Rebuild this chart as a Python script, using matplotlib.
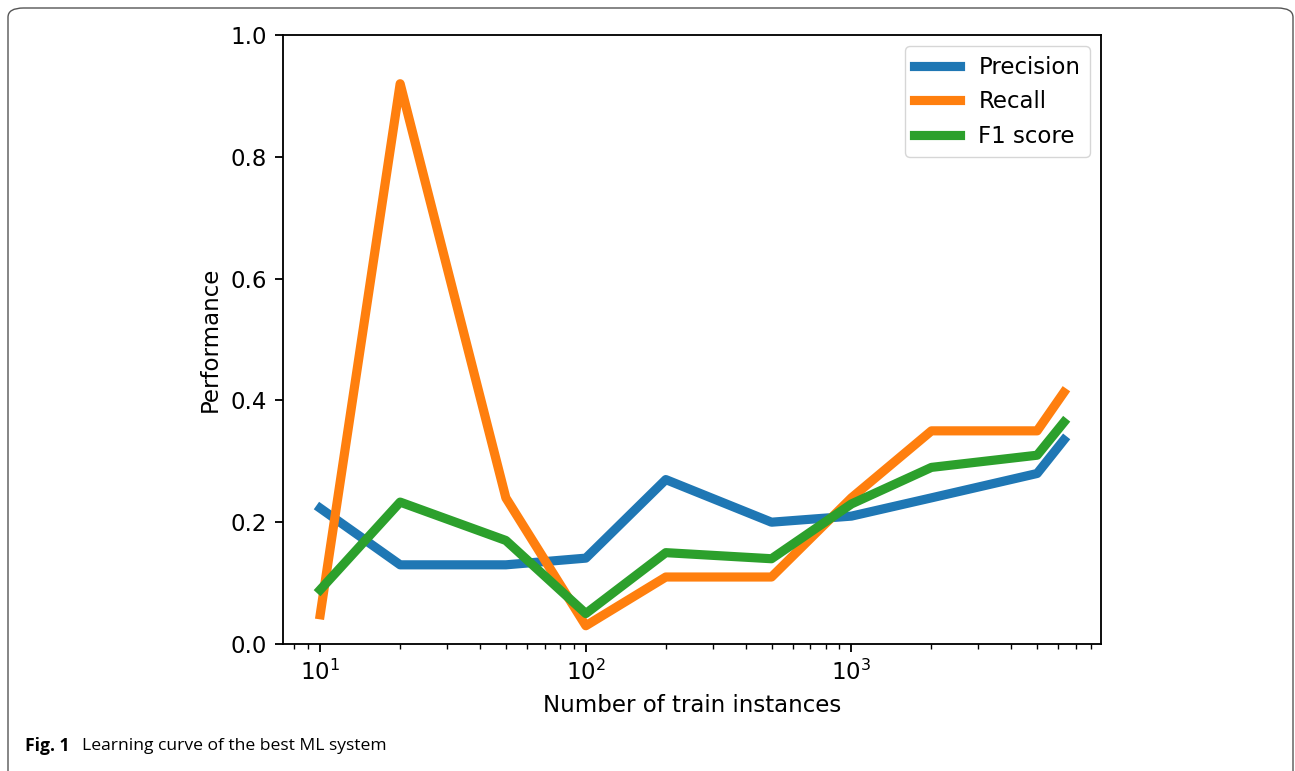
import matplotlib
matplotlib.use("Agg")
import matplotlib.pyplot as plt
from matplotlib.patches import FancyBboxPatch

# training set sizes and scores per metric
train_sizes = [10, 20, 50, 100, 200, 500, 1000, 2000, 5000, 6300]
precision = [0.223, 0.13, 0.13, 0.141, 0.27, 0.20, 0.21, 0.24, 0.28, 0.335]
recall = [0.048, 0.92, 0.24, 0.03, 0.11, 0.11, 0.24, 0.35, 0.35, 0.413]
f1_score = [0.089, 0.233, 0.17, 0.05, 0.15, 0.14, 0.23, 0.29, 0.31, 0.364]

s = 1.65  # scale of the exported plot
fs = 10 * s

plt.rcParams['axes.linewidth'] = 0.8 * s
for ax_name in ['xtick', 'ytick']:
    plt.rcParams[ax_name + '.major.size'] = 3.5 * s
    plt.rcParams[ax_name + '.minor.size'] = 2 * s
    plt.rcParams[ax_name + '.major.width'] = 0.8 * s
    plt.rcParams[ax_name + '.minor.width'] = 0.6 * s
    plt.rcParams[ax_name + '.major.pad'] = 3.5 * s

fig = plt.figure(figsize=(12.95, 7.71), dpi=100)

# rounded frame around the figure (runs off the bottom edge)
frame = FancyBboxPatch((8 / 1295, -20 / 771), 1285 / 1295, 783 / 771,
                       boxstyle="round,pad=0,rounding_size=0.012",
                       transform=fig.transFigure, fill=False,
                       edgecolor='#555555', linewidth=1.0, clip_on=False)
fig.patches.append(frame)

ax = fig.add_axes([283 / 1295, 1 - 644 / 771, 818 / 1295, 609 / 771])
ax.plot(train_sizes, precision, lw=4 * s, label='Precision')
ax.plot(train_sizes, recall, lw=4 * s, label='Recall')
ax.plot(train_sizes, f1_score, lw=4 * s, label='F1 score')
ax.set_xscale('log')
ax.set_ylim(0, 1.0)
ax.tick_params(labelsize=fs)
ax.set_xlabel('Number of train instances', fontsize=fs, labelpad=4 * s)
ax.set_ylabel('Performance', fontsize=fs, labelpad=4 * s)
ax.legend(fontsize=fs, loc='upper right')

fig.text(25 / 1295, 1 - 746 / 771, 'Fig. 1', fontsize=12.6, fontweight='bold',
         family='Open Sans', va='center', ha='left')
fig.text(82 / 1295, 1 - 746 / 771, 'Learning curve of the best ML system',
         fontsize=12.6, family='Open Sans', va='center', ha='left')

fig.savefig('out.png', dpi=100)
